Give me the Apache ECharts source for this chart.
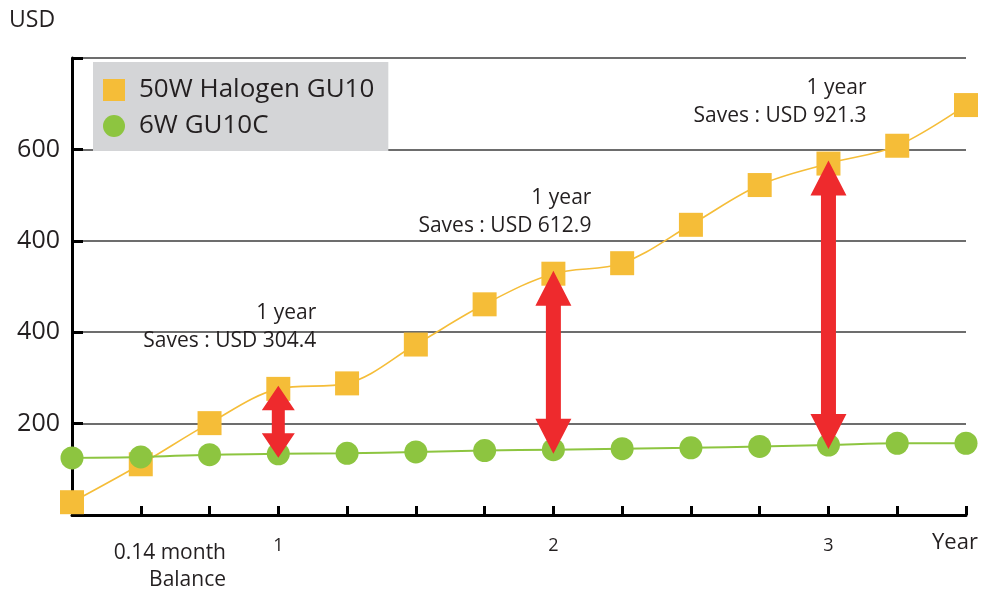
<!DOCTYPE html>
<html><head><meta charset="utf-8">
<script src="https://cdn.jsdelivr.net/npm/echarts@6/dist/echarts.min.js"></script>
<style>html,body{margin:0;padding:0;background:#fff}#c{width:982px;height:595px}</style>
</head><body><div id="c"></div>
<script>
// ---- data ----
const xPositions = [0,1,2,3,4,5,6,7,8,9,10,11,12,13];
const halogen = [28,111,201,276,288,373,461,528,551,635,722,769,808,897];
const gu10c   = [125,127,132,134,135,138,141,143,145,147,150,153,157,157];
const seriesNames = ['50W Halogen GU10','6W GU10C'];
const yTickValues = [200,400,600,800];
const yTickLabels = ['200','400','400','600'];
const xTickValues = [3,7,11];
const xTickLabels = ['1','2','3'];
const savingsAt = [3,7,11];
const savingsText = ['304.4','612.9','921.3'];
const yearNote = '1 year';
const balanceNote = ['0.14 month','Balance'];

const FONT = "'Open Sans', 'Noto Sans', sans-serif";
const TXT = '#231f20';
const YEL = '#f5bd38';
const GRN = '#8dc540';
const RED = '#ee2a2d';

const chart = echarts.init(document.getElementById('c'), null, {renderer:'canvas'});

const arrowData = savingsAt.map(i => [xPositions[i], halogen[i], gu10c[i]]);

function renderArrow(params, api){
  const x = api.value(0);
  const top = api.coord([x, api.value(1)]);
  const bot = api.coord([x, api.value(2)]);
  const cx = top[0];
  const t = top[1] - 3, b = bot[1] + 4;
  const len = b - t;
  const hh = Math.min(35, len * 0.34);
  const hw = len < 120 ? 33 : 36;
  const sw = len < 120 ? 13 : 15;
  const pts = [
    [cx, t], [cx+hw/2, t+hh], [cx+sw/2, t+hh], [cx+sw/2, b-hh], [cx+hw/2, b-hh],
    [cx, b], [cx-hw/2, b-hh], [cx-sw/2, b-hh], [cx-sw/2, t+hh], [cx-hw/2, t+hh]
  ];
  const i = params.dataIndex;
  const tx = cx + 38;
  return {
    type:'group',
    children:[
      {type:'polygon', shape:{points:pts}, style:{fill:RED}},
      {type:'text', x: tx, y: top[1]-48, style:{text:'Saves : USD ' + savingsText[i], align:'right', verticalAlign:'middle', fontSize:21, fontFamily:FONT, fill:TXT}},
      {type:'text', x: tx, y: top[1]-76, style:{text:yearNote, align:'right', verticalAlign:'middle', fontSize:21, fontFamily:FONT, fill:TXT}}
    ]
  };
}

const option = {
  animation:false,
  backgroundColor:'#fff',
  grid:{left:72, right:16, top:58, bottom:80, containLabel:false},
  legend:{
    left:93, top:62, orient:'vertical',
    backgroundColor:'#d4d5d7', borderRadius:0,
    padding:[15,14,12,10],
    itemWidth:22, itemHeight:22, itemGap:10,
    data:[{name:seriesNames[0], icon:'rect'},{name:seriesNames[1], icon:'circle'}],
    textStyle:{fontSize:26, fontFamily:FONT, color:TXT, padding:[0,0,0,9]}
  },
  xAxis:{
    type:'value', min:0, max:13, interval:1,
    axisLine:{show:true, lineStyle:{color:'#000', width:3}},
    axisTick:{show:true, inside:true, length:9, lineStyle:{color:'#000', width:3}},
    splitLine:{show:false},
    axisLabel:{
      margin:22, fontSize:18, fontFamily:FONT, color:TXT,
      formatter:v => { const k = xTickValues.indexOf(v); return k >= 0 ? xTickLabels[k] : ''; }
    }
  },
  yAxis:{
    type:'value', min:0, max:1000, interval:200,
    axisLine:{show:true, lineStyle:{color:'#000', width:3}},
    axisTick:{show:true, inside:true, length:11, lineStyle:{color:'#000', width:3}},
    splitLine:{show:true, lineStyle:{color:'#3c3c3c', width:1.5}},
    axisLabel:{
      margin:12, fontSize:25, fontFamily:FONT, color:TXT,
      formatter:v => { const k = yTickValues.indexOf(v); return k >= 0 ? yTickLabels[k] : ''; }
    }
  },
  graphic:[
    {type:'text', left:9, top:9, style:{text:'USD', fontSize:23, fontFamily:FONT, fill:TXT}},
    {type:'text', left:932, top:532, style:{text:'Year', fontSize:22, fontFamily:FONT, fill:TXT}},
    {type:'text', x:226, y:553, style:{text:balanceNote[0], align:'right', verticalAlign:'middle', fontSize:21, fontFamily:FONT, fill:TXT}},
    {type:'text', x:226, y:580, style:{text:balanceNote[1], align:'right', verticalAlign:'middle', fontSize:21, fontFamily:FONT, fill:TXT}}
  ],
  series:[
    {
      name:seriesNames[0], type:'line', smooth:0.35, clip:false,
      data:xPositions.map((x,i)=>[x, halogen[i]]),
      symbol:'rect', symbolSize:24,
      itemStyle:{color:YEL}, lineStyle:{color:YEL, width:1.6}, z:3
    },
    {
      name:seriesNames[1], type:'line', smooth:0.35, clip:false,
      data:xPositions.map((x,i)=>[x, gu10c[i]]),
      symbol:'circle', symbolSize:23,
      itemStyle:{color:GRN}, lineStyle:{color:GRN, width:2}, z:4
    },
    {
      type:'custom', coordinateSystem:'cartesian2d', clip:false, z:10,
      data:arrowData, renderItem:renderArrow, silent:true
    }
  ]
};
chart.setOption(option);
</script>
</body></html>
